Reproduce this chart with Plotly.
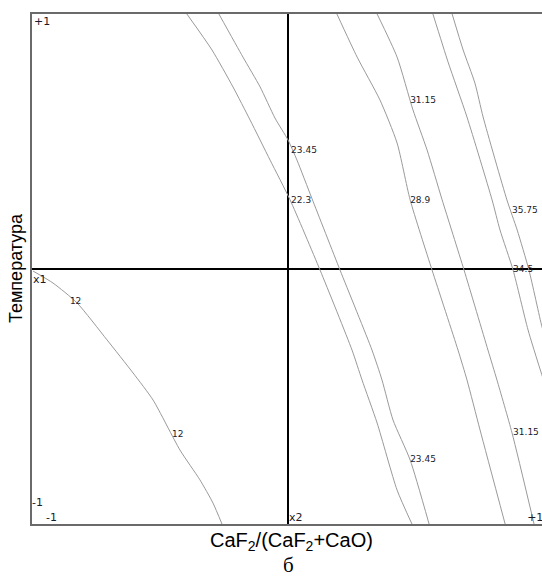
import plotly.graph_objects as go

# Contour isolines (coded factors x2 horizontal, x1 vertical)
c12_x = [-0.996, -0.918, -0.824, -0.707, -0.605, -0.527, -0.422, -0.344, -0.293, -0.258]
c12_y = [-0.008, -0.055, -0.133, -0.278, -0.408, -0.514, -0.710, -0.827, -0.918, -1.000]

c22_3_x = [-0.395, -0.297, -0.215, -0.148, -0.070, 0.008, 0.125, 0.250, 0.289, 0.348, 0.426, 0.484]
c22_3_y = [1.000, 0.859, 0.714, 0.584, 0.427, 0.271, -0.004, -0.318, -0.435, -0.604, -0.867, -1.000]

c23_45_x = [-0.270, -0.176, -0.109, -0.051, 0.000, 0.035, 0.094, 0.203, 0.328, 0.367, 0.410, 0.477, 0.551]
c23_45_y = [1.000, 0.831, 0.714, 0.592, 0.506, 0.427, 0.275, -0.004, -0.318, -0.435, -0.592, -0.749, -1.000]

c28_9_x = [0.191, 0.270, 0.359, 0.426, 0.477, 0.5625, 0.664, 0.699, 0.750, 0.848]
c28_9_y = [1.000, 0.831, 0.663, 0.494, 0.271, -0.004, -0.318, -0.435, -0.631, -1.000]

c31_15_x = [0.348, 0.426, 0.488, 0.543, 0.602, 0.6875, 0.781, 0.816, 0.875, 0.961]
c31_15_y = [1.000, 0.831, 0.624, 0.467, 0.271, -0.004, -0.318, -0.435, -0.643, -1.000]

c34_5_x = [0.566, 0.625, 0.699, 0.797, 0.828, 0.879, 0.9375, 1.004]
c34_5_y = [1.000, 0.812, 0.596, 0.271, 0.153, -0.004, -0.239, -0.455]

c35_75_x = [0.641, 0.684, 0.730, 0.762, 0.855, 0.895, 0.941, 0.992, 1.008]
c35_75_y = [1.000, 0.859, 0.729, 0.596, 0.271, 0.153, -0.004, -0.227, -0.278]

# Contour value labels
label_text = ["12", "12", "22.3", "23.45", "23.45", "28.9", "31.15", "31.15", "35.75", "34.5"]
label_x = [-0.852, -0.453, 0.012, 0.012, 0.477, 0.477, 0.477, 0.879, 0.875, 0.879]
label_y = [-0.129, -0.651, 0.267, 0.463, -0.749, 0.267, 0.659, -0.643, 0.227, -0.004]

# Corner marks
corner_text = ["+1", "x1", "-1", "-1", "x2", "+1"]
corner_x = [-0.992, -0.996, -1.0, -0.945, 0.004, 0.934]
corner_y = [0.969, -0.043, -0.918, -0.976, -0.976, -0.976]

x_title = "CaF<sub>2</sub>/(CaF<sub>2</sub>+CaO)"
y_title = "Температура"
caption = "б"

curves = [(c12_x, c12_y), (c22_3_x, c22_3_y), (c23_45_x, c23_45_y), (c28_9_x, c28_9_y),
          (c31_15_x, c31_15_y), (c34_5_x, c34_5_y), (c35_75_x, c35_75_y)]

fig = go.Figure()
for cx, cy in curves:
    fig.add_trace(go.Scatter(x=cx, y=cy, mode="lines",
                             line=dict(color="#9a9a9a", width=1, shape="spline", smoothing=0.6),
                             hoverinfo="skip", showlegend=False))

fig.add_trace(go.Scatter(x=label_x, y=label_y, mode="text", text=label_text,
                         textposition="middle right",
                         textfont=dict(family="DejaVu Sans", size=9, color="#1a1a2a"),
                         cliponaxis=False, showlegend=False, hoverinfo="skip"))

fig.add_trace(go.Scatter(x=corner_x, y=corner_y, mode="text", text=corner_text,
                         textposition="middle right",
                         textfont=dict(family="DejaVu Sans", size=11, color="#1a1a2a"),
                         cliponaxis=False, showlegend=False, hoverinfo="skip"))

fig.update_layout(
    width=542, height=576,
    margin=dict(l=32, r=0, t=14, b=52),
    paper_bgcolor="white", plot_bgcolor="white",
    showlegend=False,
    xaxis=dict(range=[-1, 0.992], showgrid=False, showticklabels=False, ticks="",
               zeroline=True, zerolinecolor="black", zerolinewidth=1.5,
               showline=True, linecolor="#6a6a6a", linewidth=2, mirror=True),
    yaxis=dict(range=[-1, 1], showgrid=False, showticklabels=False, ticks="",
               zeroline=True, zerolinecolor="black", zerolinewidth=1.5,
               showline=True, linecolor="#6a6a6a", linewidth=2, mirror=False),
    annotations=[
        dict(text=x_title, xref="paper", yref="paper", x=(291 - 32) / 510, y=-(541 - 524) / 510,
             showarrow=False, xanchor="center", yanchor="middle",
             font=dict(family="Liberation Sans", size=20, color="black")),
        dict(text=y_title, xref="paper", yref="paper", x=(16 - 32) / 510, y=(524 - 268) / 510,
             showarrow=False, xanchor="center", yanchor="middle", textangle=-90,
             font=dict(family="Liberation Sans", size=18, color="black")),
        dict(text=caption, xref="paper", yref="paper", x=(288 - 32) / 510, y=-(565 - 524) / 510,
             showarrow=False, xanchor="center", yanchor="middle",
             font=dict(family="Liberation Serif", size=21, color="black")),
    ],
)

fig.write_html("out.html")
